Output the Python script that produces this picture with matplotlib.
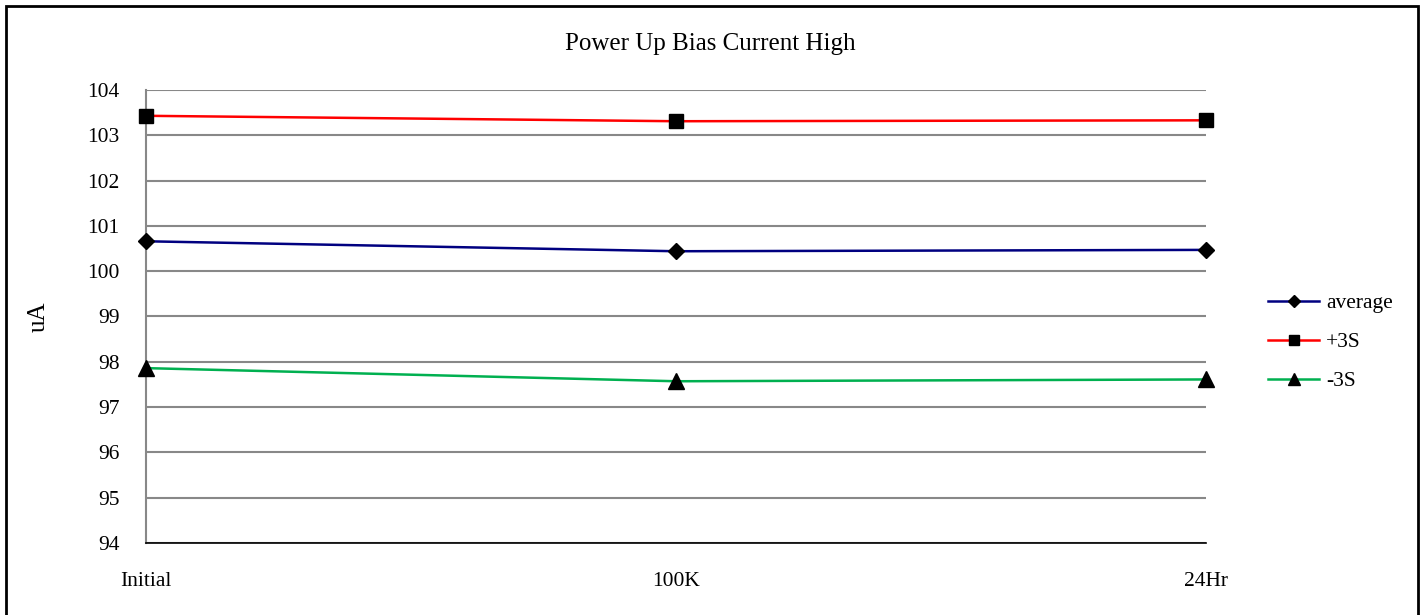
import matplotlib.pyplot as plt
from matplotlib.patches import Rectangle

# data
categories = ["Initial", "100K", "24Hr"]
average = [100.66, 100.44, 100.47]
plus_3s = [103.43, 103.31, 103.33]
minus_3s = [97.86, 97.57, 97.61]

plt.rcParams["font.family"] = ["Liberation Serif", "DejaVu Serif"]

fig = plt.figure(figsize=(14.21, 6.15), dpi=100)
ax = fig.add_axes([0.1027, 0.1171, 0.746, 0.7366])

x = list(range(len(categories)))
ax.plot(x, average, color="#000080", linewidth=1.8, marker="D", markersize=8,
        markerfacecolor="black", markeredgecolor="black", label="average", clip_on=False, zorder=3)
ax.plot(x, plus_3s, color="#FF0000", linewidth=1.8, marker="s", markersize=10,
        markerfacecolor="black", markeredgecolor="black", label="+3S", clip_on=False, zorder=3)
ax.plot(x, minus_3s, color="#00B050", linewidth=1.8, marker="^", markersize=11,
        markerfacecolor="black", markeredgecolor="black", label="-3S", clip_on=False, zorder=3)

ax.set_xlim(0, 2)
ax.set_ylim(94, 104)
ax.set_yticks(range(94, 105))
ax.set_xticks(x)
ax.set_xticklabels(categories)
ax.grid(axis="y", color="#888888", linewidth=1.5)
ax.set_axisbelow(True)

for side in ["top", "right"]:
    ax.spines[side].set_visible(False)
ax.spines["left"].set_color("#888888")
ax.spines["left"].set_linewidth(1.5)
ax.spines["bottom"].set_color("black")
ax.spines["bottom"].set_linewidth(1.2)
ax.tick_params(axis="both", length=0, labelsize=15.5)
ax.tick_params(axis="x", pad=21)
ax.tick_params(axis="y", pad=19)

ax.set_ylabel("uA", fontsize=18, labelpad=27)
fig.text(0.5, 0.928, "Power Up Bias Current High", ha="center", va="center", fontsize=18)

leg = ax.legend(loc="center left", bbox_to_anchor=(1.04, 0.443), frameon=False,
                fontsize=15.5, handlelength=2.4, labelspacing=0.88, handletextpad=0.3,
                markerscale=0.75)

# outer frame round the chart
fig.patches.append(Rectangle((0.004, -0.01), 0.994, 1.0, transform=fig.transFigure,
                             fill=False, edgecolor="black", linewidth=2))

fig.savefig("out.png", dpi=100)
plt.close(fig)
